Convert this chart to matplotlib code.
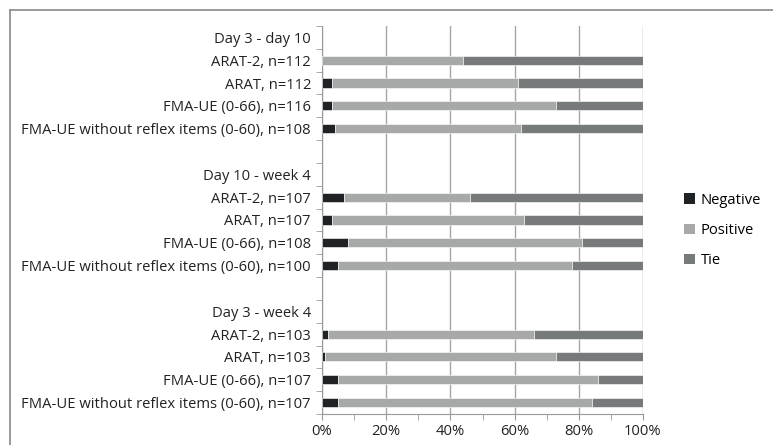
import matplotlib.pyplot as plt
import numpy as np
from matplotlib.ticker import FixedLocator, PercentFormatter

plt.rcParams['font.family'] = ['Open Sans', 'DejaVu Sans']

# rows from top to bottom ('' = blank spacer row)
labels = ['Day 3 - day 10',
          'ARAT-2, n=112', 'ARAT, n=112', 'FMA-UE (0-66), n=116',
          'FMA-UE without reflex items (0-60), n=108',
          '',
          'Day 10 - week 4',
          'ARAT-2, n=107', 'ARAT, n=107', 'FMA-UE (0-66), n=108',
          'FMA-UE without reflex items (0-60), n=100',
          '',
          'Day 3 - week 4',
          'ARAT-2, n=103', 'ARAT, n=103', 'FMA-UE (0-66), n=107',
          'FMA-UE without reflex items (0-60), n=107']

# percentages per row (zeros for heading / blank rows)
negative = [0, 0, 3, 3, 4, 0, 0, 7, 3, 8, 5, 0, 0, 2, 1, 5, 5]
positive = [0, 44, 58, 70, 58, 0, 0, 39, 60, 73, 73, 0, 0, 64, 72, 81, 79]
tie = [0, 56, 39, 27, 38, 0, 0, 54, 37, 19, 22, 0, 0, 34, 27, 14, 16]

series = ['Negative', 'Positive', 'Tie']
colors = ['#1f2326', '#a7a9a9', '#777a7a']

fig = plt.figure(figsize=(7.73, 4.45), dpi=100)
ax = fig.add_axes([0.4166, 0.0697, 0.4152, 0.8719])

y = np.arange(len(labels))
left = np.zeros(len(labels))
for name, vals, c in zip(series, [negative, positive, tie], colors):
    vals = np.array(vals, dtype=float)
    lw = np.where(vals > 0, 0.4, 0.0)
    ax.barh(y, vals, left=left, height=0.4, color=c, label=name,
            edgecolor='white', linewidth=lw, zorder=3)
    left += vals

ax.set_ylim(len(labels) - 0.5, -0.5)
ax.set_xlim(0, 100)
ax.set_yticks(y)
ax.set_yticklabels(labels, fontsize=10.6, color='#222222')
ax.yaxis.set_minor_locator(FixedLocator(np.arange(-0.5, len(labels), 1)))
ax.tick_params(axis='y', which='major', length=0, pad=8)
ax.tick_params(axis='y', which='minor', length=4, color='#999999')

ax.set_xticks(np.arange(0, 101, 20))
ax.xaxis.set_minor_locator(FixedLocator(np.arange(10, 100, 20)))
ax.xaxis.set_major_formatter(PercentFormatter(decimals=0))
ax.tick_params(axis='x', which='both', length=4, color='#999999',
               labelsize=10.6, labelcolor='#222222')
ax.grid(axis='x', color='#a6a6a6', linewidth=1, zorder=0)

for s in ['top', 'right']:
    ax.spines[s].set_visible(False)
for s in ['left', 'bottom']:
    ax.spines[s].set_color('#999999')

fig.legend(loc='center left', bbox_to_anchor=(0.868, 0.482), frameon=False,
           fontsize=10.6, handlelength=0.7, handleheight=0.7, handletextpad=0.4,
           labelspacing=1.05)

# outer chart-area border (top and left only visible in the crop)
fig.add_artist(plt.Line2D([10 / 773, 1], [1 - 10 / 445, 1 - 10 / 445],
                          color='#888888', linewidth=1.2))
fig.add_artist(plt.Line2D([10 / 773, 10 / 773], [1 - 10 / 445, 0],
                          color='#888888', linewidth=1.2))

fig.savefig('out.png', dpi=100)
